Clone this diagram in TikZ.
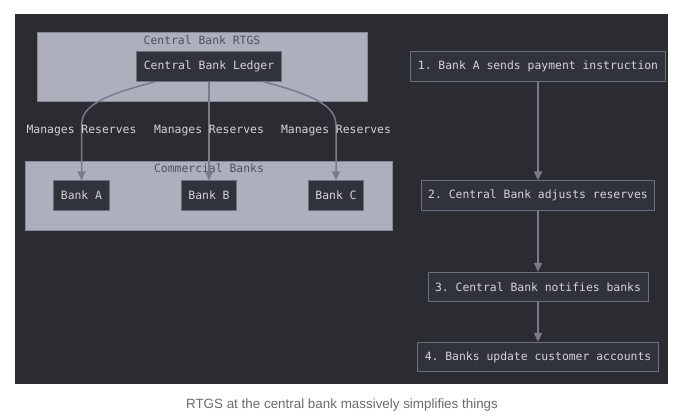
\documentclass[tikz,border=0pt]{standalone}
\usepackage{fontspec}
\setmainfont{Liberation Sans}
\setmonofont{DejaVu Sans Mono}
\usetikzlibrary{arrows.meta,positioning}
\definecolor{bgdark}{HTML}{2B2C32}
\definecolor{boxfill}{HTML}{31333C}
\definecolor{boxline}{HTML}{6C6F7E}
\definecolor{clfill}{HTML}{ADAFBD}
\definecolor{clline}{HTML}{858899}
\definecolor{edgecol}{HTML}{787B8B}
\definecolor{txtlight}{HTML}{D4D5DA}
\definecolor{txtdark}{HTML}{4E5160}
\definecolor{captcol}{HTML}{6A6A6A}
\tikzset{
    >={Triangle[width=8pt,length=9pt]},
    stepbox/.style={
        rectangle,
        fill=boxfill,
        draw=boxline, line width=0.9pt,
        text=txtlight,
        inner xsep=7pt,
        minimum height=29.5pt,
        font={\ttfamily\fontsize{11.4pt}{13}\selectfont}
    },
    cluster/.style={
        rectangle,
        fill=clfill,
        draw=clline, line width=0.9pt,
        inner sep=0pt
    },
    cltitle/.style={text=txtdark, font={\ttfamily\fontsize{11.4pt}{13}\selectfont}},
    elabel/.style={text=txtlight, font={\ttfamily\fontsize{11.4pt}{13}\selectfont}},
    line/.style={draw=edgecol, line width=1.5pt, ->},
}
\begin{document}
\begin{tikzpicture}[x=1pt,y=-1pt]
    \useasboundingbox (0,0) rectangle (680,418);
    \fill [bgdark] (15,14) rectangle (668,384);

    % left part
    \node [cluster, minimum width=330pt, minimum height=69pt] (rtgs) at (202,66.5) {};
    \node [cltitle] (rtgslabel) at (202,40) {Central Bank RTGS};
    \node [stepbox] (ledger) at (209,66.5) {Central Bank Ledger};

    \node [cluster, minimum width=367pt, minimum height=69pt] (commercial) at (208.5,195.5) {};
    \node [cltitle] (comlabel) at (209,168) {Commercial Banks};
    \node [stepbox] (bankA) at (81.5,195.5) {Bank A};
    \node [stepbox] (bankB) at (209,195.5) {Bank B};
    \node [stepbox] (bankC) at (336,195.5) {Bank C};

    \draw [line] ([xshift=19pt]ledger.south west) .. controls (96,97) and (81.5,108) .. (81.5,126) -- (bankA.north);
    \draw [line] (ledger.south) -- (bankB.north);
    \draw [line] ([xshift=-18pt]ledger.south east) .. controls (321,97) and (336,108) .. (336,126) -- (bankC.north);

    \node [elabel] (resA) at (81.5,131) {Manages Reserves};
    \node [elabel] (resB) at (209,131) {Manages Reserves};
    \node [elabel] (resC) at (336,131) {Manages Reserves};

    % right part
    \node [stepbox] (s1) at (538,66.5) {1. Bank A sends payment instruction};
    \node [stepbox] (s2) at (538,195.5) {2. Central Bank adjusts reserves};
    \node [stepbox] (s3) at (538,287) {3. Central Bank notifies banks};
    \node [stepbox] (s4) at (538,357) {4. Banks update customer accounts};

    \draw [line] (s1) -- (s2);
    \draw [line] (s2) -- (s3);
    \draw [line] (s3) -- (s4);

    \node [text=captcol, font={\fontsize{13.4pt}{16}\selectfont}] (caption) at (342,405) {RTGS at the central bank massively simplifies things};
\end{tikzpicture}
\end{document}
